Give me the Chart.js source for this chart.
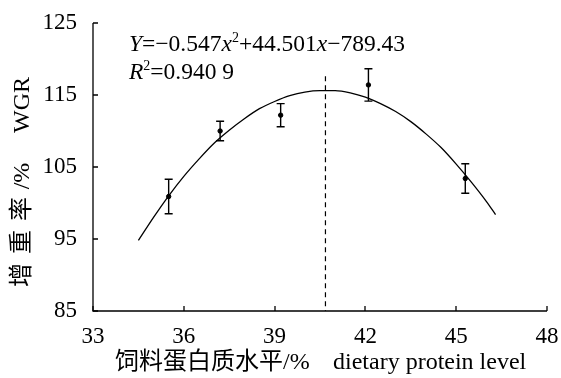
<!DOCTYPE html>
<html><head><meta charset="utf-8">
<script src="https://cdn.jsdelivr.net/npm/chart.js@4/dist/chart.umd.min.js"></script>
<style>html,body{margin:0;padding:0;background:#fff}#wrap{width:561px;height:378px;position:relative}</style>
</head><body><div id="wrap"><canvas id="c"></canvas></div>
<script>
const proteinLevels = [35.5, 37.2, 39.2, 42.1, 45.3];
const wgrMeans = [100.9, 110.0, 112.2, 116.4, 103.4];
const wgrErrors = [2.4, 1.35, 1.6, 2.25, 2.05];
const curveX = [34.5,35,35.5,36,36.5,37,37.5,38,38.5,39,39.5,40,40.5,41,41.5,42,42.5,43,43.5,44,44.5,45,45.5,46,46.3];
const curveY = [94.8,98.0,101.0,103.7,106.1,108.3,110.1,111.7,113.1,114.1,114.9,115.4,115.6,115.6,115.3,114.7,113.8,112.7,111.3,109.6,107.7,105.4,102.9,100.2,98.4];
const optimumX = 40.68;
const optimumLineY = [117.6, 85];
const xTicks = [33, 36, 39, 42, 45, 48];
const yTicks = [85, 95, 105, 115, 125];
const xTitleCn = "饲料蛋白质水平/%";
const xTitleEn = "dietary protein level";
const yTitleCn = ["增", "重", "率", "/%"];
const yTitleEn = "WGR";

const FONT = '"Liberation Serif","Times New Roman","Noto Sans CJK SC",serif';

function drawRich(ctx, parts, x0, y0, size) {
  parts.forEach(([t, st]) => {
    if (st === 's') { ctx.font = Math.round(size * 0.58) + 'px ' + FONT; ctx.fillText(t, x0, y0 - size * 0.3); x0 += ctx.measureText(t).width; return; }
    ctx.font = (st === 'i' ? 'italic ' : '') + size + 'px ' + FONT;
    ctx.fillText(t, x0, y0); x0 += ctx.measureText(t).width;
  });
}

const overlay = {
  id: 'overlay',
  afterDatasetsDraw(chart) {
    const ctx = chart.ctx, xs = chart.scales.x, ys = chart.scales.y;
    const L = xs.left, R = xs.right, T = ys.top, B = ys.bottom;
    ctx.save();
    ctx.strokeStyle = '#000'; ctx.lineWidth = 1.3;
    ctx.beginPath(); ctx.moveTo(L, T); ctx.lineTo(L, B); ctx.lineTo(R, B); ctx.stroke();
    ctx.beginPath();
    yTicks.forEach(v => { const p = Math.round(ys.getPixelForValue(v)); ctx.moveTo(L, p); ctx.lineTo(L + 5, p); });
    xTicks.forEach(v => { const p = Math.round(xs.getPixelForValue(v)); ctx.moveTo(p, B); ctx.lineTo(p, B - 5); });
    ctx.stroke();
    ctx.lineWidth = 1.4;
    proteinLevels.forEach((x, i) => {
      const px = xs.getPixelForValue(x);
      const top = ys.getPixelForValue(wgrMeans[i] + wgrErrors[i]);
      const bot = ys.getPixelForValue(wgrMeans[i] - wgrErrors[i]);
      ctx.beginPath();
      ctx.moveTo(px, top); ctx.lineTo(px, bot);
      ctx.moveTo(px - 4, top); ctx.lineTo(px + 4, top);
      ctx.moveTo(px - 4, bot); ctx.lineTo(px + 4, bot);
      ctx.stroke();
    });
    ctx.fillStyle = '#000';
    ctx.textBaseline = 'middle';
    ctx.textAlign = 'left';
    drawRich(ctx, [['Y','i'],['=−0.547',''],['x','i'],['2','s'],['+44.501',''],['x','i'],['−789.43','']], 129, 45, 23.5);
    drawRich(ctx, [['R','i'],['2','s'],['=0.940 9','']], 129, 73, 23.5);
    ctx.font = '24px ' + FONT;
    ctx.fillText(xTitleCn, 115, 363);
    ctx.fillText(xTitleEn, 333, 363);
    ctx.textAlign = 'center';
    const yPos = [275, 242, 209, 176];
    yTitleCn.forEach((t, i) => {
      ctx.save(); ctx.translate(23, yPos[i]); ctx.rotate(-Math.PI / 2); ctx.fillText(t, 0, 0); ctx.restore();
    });
    ctx.save(); ctx.translate(23, 105); ctx.rotate(-Math.PI / 2); ctx.fillText(yTitleEn, 0, 0); ctx.restore();
    ctx.restore();
  }
};

new Chart(document.getElementById('c'), {
  type: 'scatter',
  data: {
    datasets: [
      { data: curveX.map((x, i) => ({x, y: curveY[i]})), showLine: true, borderColor: '#000', borderWidth: 1.3, pointRadius: 0, cubicInterpolationMode: 'monotone', order: 2 },
      { data: optimumLineY.map(y => ({x: optimumX, y})), showLine: true, borderColor: '#000', borderWidth: 1.2, borderDash: [5, 4], pointRadius: 0, order: 3 },
      { data: proteinLevels.map((x, i) => ({x, y: wgrMeans[i]})), showLine: false, pointRadius: 2.2, pointBackgroundColor: '#000', pointBorderColor: '#000', order: 1 }
    ]
  },
  options: {
    responsive: true, maintainAspectRatio: false, animation: false,
    layout: { padding: { left: 0, right: 14, top: 23, bottom: 0 } },
    plugins: { legend: { display: false }, tooltip: { enabled: false } },
    scales: {
      x: {
        type: 'linear', min: 33, max: 48,
        afterBuildTicks: s => { s.ticks = xTicks.map(v => ({value: v})); },
        afterFit: s => { s.height = 67; s.paddingLeft = 0; s.paddingRight = 0; },
        grid: { display: false, drawTicks: false }, border: { display: false },
        ticks: { color: '#000', font: { family: FONT, size: 23 }, padding: 12, maxRotation: 0 }
      },
      y: {
        type: 'linear', min: 85, max: 125,
        afterBuildTicks: s => { s.ticks = yTicks.map(v => ({value: v})); },
        afterFit: s => { s.width = 93; s.paddingTop = 0; s.paddingBottom = 0; },
        grid: { display: false, drawTicks: false }, border: { display: false },
        ticks: { color: '#000', font: { family: FONT, size: 23 }, padding: 16 }
      }
    }
  },
  plugins: [overlay]
});
</script></body></html>
